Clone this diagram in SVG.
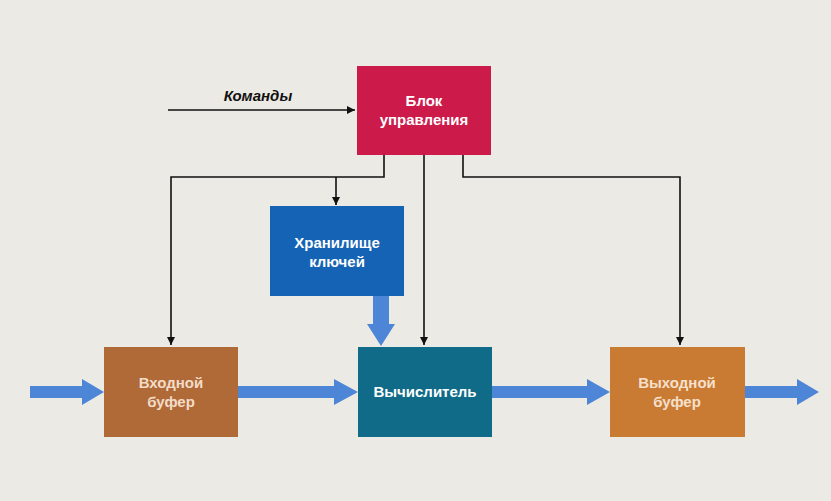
<svg xmlns="http://www.w3.org/2000/svg" width="831" height="501" viewBox="0 0 831 501">
<defs>
<style>
.lbl{font-family:"Liberation Sans",Arial,sans-serif;font-weight:bold;font-size:15px;fill:#fff;text-anchor:middle}
.ln{fill:none;stroke:#111;stroke-width:1.6}
.fat{fill:#4d86d6}
</style>
<marker id="ah" viewBox="0 0 10 10" refX="10" refY="5" markerWidth="8" markerHeight="8" orient="auto" markerUnits="userSpaceOnUse">
<path d="M0,0 L10,5 L0,10 z" fill="#111"/>
</marker>
</defs>
<rect width="831" height="501" fill="#eceae5"/>
<g id="connectors">
<path class="ln" d="M168,110 H355" marker-end="url(#ah)"/>
<text x="258" y="101" style="font-family:'Liberation Sans',Arial,sans-serif;font-weight:bold;font-style:italic;font-size:15px;fill:#111;text-anchor:middle">Команды</text>
<path class="ln" d="M384,155 V177 H171 V345" marker-end="url(#ah)"/>
<path class="ln" d="M336,177 V205" marker-end="url(#ah)"/>
<path class="ln" d="M424,155 V345" marker-end="url(#ah)"/>
<path class="ln" d="M463,155 V177 H680 V345" marker-end="url(#ah)"/>
<path class="fat" d="M373,296 H389 V324 H395 L381,346 L367,324 H373 Z"/>
<path class="fat" d="M30,386 H82 V379 L104,392 L82,405 V398 H30 Z"/>
<path class="fat" d="M238,386 H334 V379 L358,392 L334,405 V398 H238 Z"/>
<path class="fat" d="M492,386 H587 V379 L610,392 L587,405 V398 H492 Z"/>
<path class="fat" d="M745,386 H797 V379 L819,392 L797,405 V398 H745 Z"/>
</g>
<g id="control">
<rect x="357" y="66" width="134" height="89" fill="#cc1a4a"/>
<text class="lbl" x="424" y="106">Блок</text>
<text class="lbl" x="424" y="125">управления</text>
</g>
<g id="keystore">
<rect x="270" y="206" width="134" height="90" fill="#1563b4"/>
<text class="lbl" x="337" y="248">Хранилище</text>
<text class="lbl" x="337" y="267">ключей</text>
</g>
<g id="inbuf">
<rect x="104" y="347" width="134" height="90" fill="#b06a38"/>
<text class="lbl" x="171" y="388" style="fill:#f3dcc8">Входной</text>
<text class="lbl" x="171" y="407" style="fill:#f3dcc8">буфер</text>
</g>
<g id="calc">
<rect x="358" y="347" width="134" height="90" fill="#0f6b88"/>
<text class="lbl" x="425" y="397">Вычислитель</text>
</g>
<g id="outbuf">
<rect x="610" y="347" width="135" height="90" fill="#c97a33"/>
<text class="lbl" x="677" y="388" style="fill:#f6e0cc">Выходной</text>
<text class="lbl" x="677" y="407" style="fill:#f6e0cc">буфер</text>
</g>
</svg>
